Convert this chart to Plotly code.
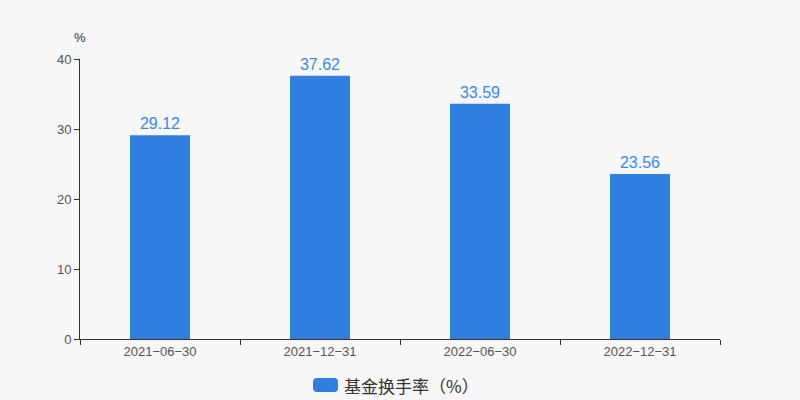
import plotly.graph_objects as go

categories = ["2021-06-30", "2021-12-31", "2022-06-30", "2022-12-31"]
values = [29.12, 37.62, 33.59, 23.56]
value_labels = ["29.12", "37.62", "33.59", "23.56"]
tick_labels = ["2021\u221206\u221230", "2021\u221212\u221231", "2022\u221206\u221230", "2022\u221212\u221231"]
legend_name = "基金换手率（%）"

BAR = "#2e7fdf"
LBL = "#3a8ae6"
L, R, T, B = 80, 80, 59, 61
W, H = 800, 400
pw, ph = W - L - R, H - T - B

def px(x):
    return (x - L) / pw

def py(y):
    return (H - B - y) / ph

fig = go.Figure()
fig.add_trace(go.Bar(
    x=categories, y=values, width=0.375,
    marker=dict(color=BAR, line=dict(width=0)),
    text=value_labels, textposition="outside", cliponaxis=False,
    textfont=dict(color=LBL, size=16, family="Liberation Sans, Arial, sans-serif"),
    name=legend_name, showlegend=False,
))

# custom legend swatch (rounded rect)
x0, x1, y0, y1 = px(313), px(338), py(392), py(378)
rx, ry = 4 / pw, 4 / ph
path = (f"M {x0+rx},{y0} L {x1-rx},{y0} Q {x1},{y0} {x1},{y0+ry} "
        f"L {x1},{y1-ry} Q {x1},{y1} {x1-rx},{y1} L {x0+rx},{y1} "
        f"Q {x0},{y1} {x0},{y1-ry} L {x0},{y0+ry} Q {x0},{y0} {x0+rx},{y0} Z")
fig.add_shape(type="path", path=path, xref="paper", yref="paper",
              fillcolor=BAR, line=dict(width=0))
fig.add_annotation(x=px(342), y=py(385), xref="paper", yref="paper",
                   text=legend_name, showarrow=False, xanchor="left", yanchor="middle",
                   font=dict(size=17, color="#333333", family="Noto Sans CJK SC"))
fig.add_annotation(x=px(80), y=py(37), xref="paper", yref="paper",
                   text="%", showarrow=False, xanchor="center", yanchor="middle",
                   font=dict(size=13, color="#333333", family="Liberation Sans, Arial, sans-serif"))

fig.update_layout(
    width=W, height=H,
    margin=dict(l=L, r=R, t=T, b=B),
    paper_bgcolor="#f7f7f7", plot_bgcolor="#f7f7f7",
    bargap=0.625,
    font=dict(family="Liberation Sans, Arial, sans-serif", color="#555555", size=13),
    xaxis=dict(
        type="category",
        tickmode="array", tickvals=categories, ticktext=tick_labels,
        showline=True, linecolor="#333333", linewidth=1,
        ticks="outside", tickson="boundaries", ticklen=5, tickcolor="#333333",
        showgrid=False, zeroline=False,
        tickfont=dict(size=13, color="#555555"),
    ),
    yaxis=dict(
        range=[0, 40], tickvals=[0, 10, 20, 30, 40],
        showline=True, linecolor="#333333", linewidth=1,
        ticks="outside", ticklen=5, tickcolor="#333333",
        showgrid=False, zeroline=False,
        tickfont=dict(size=13, color="#555555"),
    ),
    showlegend=False,
)

fig.write_html("out.html", config={"displayModeBar": False},
               post_script="document.body.style.margin='0';")
